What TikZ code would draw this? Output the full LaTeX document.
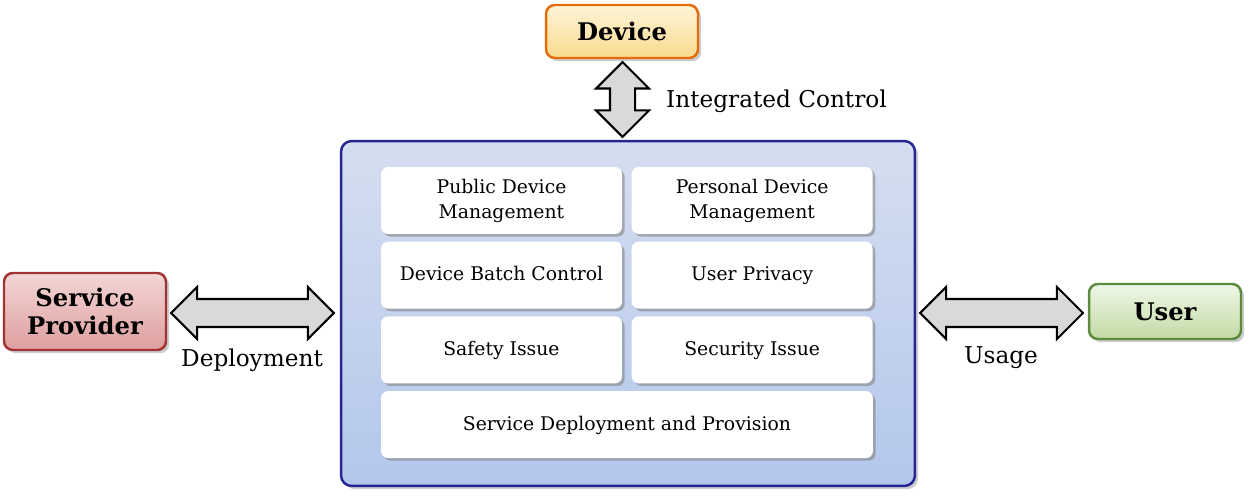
\documentclass[tikz,border=0pt]{standalone}
\usepackage{fontspec}
\setmainfont{DejaVu Serif}
\usetikzlibrary{positioning,shadows,shapes.arrows}

\tikzset{
  party/.style={draw, line width=1.4pt, rounded corners=5pt, drop shadow={shadow xshift=1.8pt, shadow yshift=-1.8pt, opacity=0.4},
                font=\fontsize{13.8}{16}\selectfont\bfseries, align=center},
  task/.style={fill=white, rounded corners=4pt, drop shadow={shadow xshift=1.5pt, shadow yshift=-1.5pt, opacity=0.55},
               minimum width=4.82cm, minimum height=1.34cm, font=\fontsize{10.7}{14}\selectfont, align=center, inner sep=0pt,
               text depth=0.06cm},
  bigarrow/.style={double arrow, draw, line width=1.2pt, fill=black!15, inner sep=0.26cm,
                   double arrow head extend=0.24cm, minimum height=#1},
  lbl/.style={font=\fontsize{13.2}{15}\selectfont}
}

\begin{document}
\begin{tikzpicture}[x=0.02cm, y=-0.02cm]
   \useasboundingbox (0,0) rectangle (1251,496);

   % the platform
   \node[draw=blue!50!black!85, line width=1.4pt, rounded corners=6pt,
         top color={rgb,255:red,213;green,222;blue,239}, bottom color={rgb,255:red,179;green,199;blue,236},
         drop shadow={shadow xshift=1.8pt, shadow yshift=-1.8pt, opacity=0.4},
         minimum width=11.48cm, minimum height=6.9cm] (platform) at (628,313.5) {};

   \node[task] (pub) at (501.5,200.5) {Public Device\\Management};
   \node[task, right=0.18cm of pub] (pers) {Personal Device\\Management};
   \node[task, below=0.14cm of pub] (batch) {Device Batch Control};
   \node[task, below=0.14cm of pers] (privacy) {User Privacy};
   \node[task, below=0.14cm of batch] (safety) {Safety Issue};
   \node[task, below=0.14cm of privacy] (security) {Security Issue};
   \node[task, minimum width=9.84cm, below=0.14cm of safety.south west, anchor=north west] (deploy) {Service Deployment and Provision};

   % the parties
   \node[party, draw={rgb,255:red,228;green,108;blue,10},
         top color={rgb,255:red,254;green,244;blue,215}, bottom color={rgb,255:red,249;green,218;blue,142},
         minimum width=3.04cm, minimum height=1.06cm] (device) at (622,31.5) {Device};
   \node[party, draw={rgb,255:red,160;green,52;blue,52},
         top color={rgb,255:red,243;green,214;blue,214}, bottom color={rgb,255:red,222;green,158;blue,158},
         minimum width=3.24cm, minimum height=1.54cm] (provider) at (85,311.5) {Service\\Provider};
   \node[party, draw={rgb,255:red,94;green,138;blue,62},
         top color={rgb,255:red,238;green,246;blue,230}, bottom color={rgb,255:red,194;green,219;blue,165},
         minimum width=3.04cm, minimum height=1.1cm] (user) at (1165,311.5) {User};

   % the links
   \node[bigarrow=1.5cm, inner sep=0.23cm, double arrow head extend=0.28cm, rotate=90] (ctrl) at (622.5,99.5) {};
   \node[bigarrow=3.26cm] (dep) at (252.5,313) {};
   \node[bigarrow=3.26cm] (use) at (1001.5,313) {};

   \node[lbl, anchor=west] at (660,101) {Integrated Control};
   \node[lbl] at (252,360) {Deployment};
   \node[lbl] at (1001,358) {Usage};
\end{tikzpicture}
\end{document}
